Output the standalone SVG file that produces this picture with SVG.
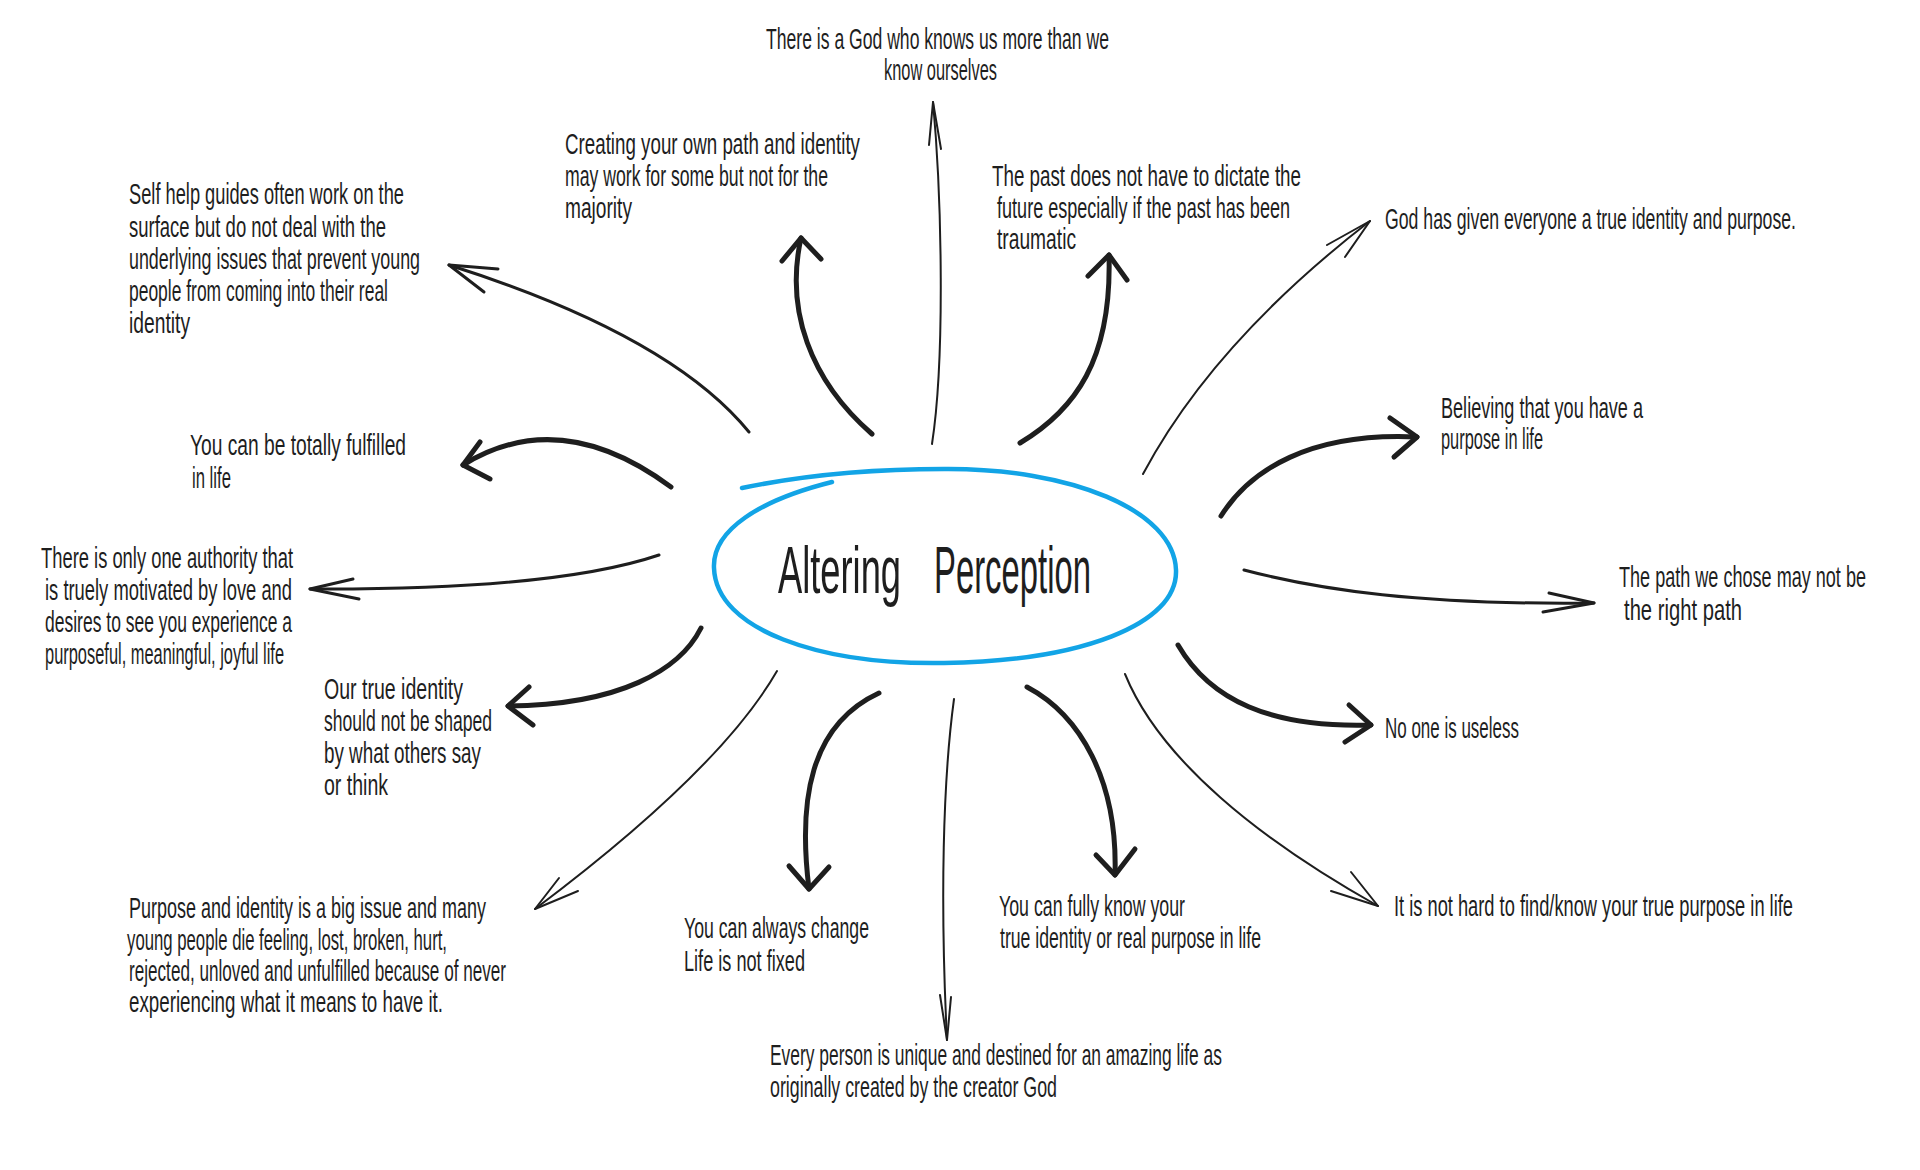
<svg xmlns="http://www.w3.org/2000/svg" width="1920" height="1170" viewBox="0 0 1920 1170">
<style>
  .lbl { font-family: "Liberation Sans", Arial, sans-serif; font-size: 29px; fill: #1e1e1e; }
  .title { font-family: "Liberation Sans", Arial, sans-serif; font-size: 66px; fill: #1e1e1e; }
  .ln { fill: none; stroke: #1e1e1e; stroke-linecap: round; stroke-linejoin: round; }
  .w2 { stroke-width: 2; }
  .w3 { stroke-width: 3; }
  .w5 { stroke-width: 5; }
  .oval { fill: none; stroke: #12a4e6; stroke-width: 4.5; stroke-linecap: round; }
</style>
<rect width="1920" height="1170" fill="#ffffff"/>

<g id="connectors">
  <g id="c-selfhelp" class="ln w3"><path d="M749 432 Q670 335 449 265"/><path d="M498 269 L449 265 L484 292"/></g>
  <g id="c-fulfilled" class="ln w5"><path d="M671 487 Q560 405 463 465"/><path d="M480 442 L463 465 L490 479"/></g>
  <g id="c-authority" class="ln w3"><path d="M659 555 C600 575 500 590 310 589"/><path d="M353 579 L310 589 L359 599"/></g>
  <g id="c-ourtrue" class="ln w5"><path d="M701 628 C680 670 620 705 508 706"/><path d="M529 687 L508 706 L533 725"/></g>
  <g id="c-purpose" class="ln w2"><path d="M777 671 Q720 770 535 909"/><path d="M559 878 L535 909 L578 891"/></g>
  <g id="c-change" class="ln w5"><path d="M879 693 C810 725 798 800 809 889"/><path d="M789 866 L809 889 L829 867"/></g>
  <g id="c-every" class="ln w2"><path d="M954 699 C943 780 940 900 947 1040"/><path d="M940 995 L947 1040 L951 997"/></g>
  <g id="c-fully" class="ln w5"><path d="M1027 687 C1080 715 1118 780 1115 875"/><path d="M1096 855 L1115 875 L1135 849"/></g>
  <g id="c-nothard" class="ln w2"><path d="M1125 674 C1160 760 1260 840 1378 906"/><path d="M1351 872 L1378 906 L1331 891"/></g>
  <g id="c-noone" class="ln w5"><path d="M1178 645 C1210 700 1270 728 1371 725"/><path d="M1349 705 L1371 725 L1345 742"/></g>
  <g id="c-path" class="ln w3"><path d="M1244 570 C1320 590 1420 605 1594 603"/><path d="M1549 593 L1594 603 L1543 612"/></g>
  <g id="c-believing" class="ln w5"><path d="M1221 516 C1250 470 1310 432 1417 437"/><path d="M1390 418 L1417 437 L1394 457"/></g>
  <g id="c-godgiven" class="ln w2"><path d="M1143 474 C1185 395 1255 310 1370 221"/><path d="M1327 245 L1370 221 L1345 257"/></g>
  <g id="c-past" class="ln w5"><path d="M1020 443 C1075 410 1112 360 1109 255"/><path d="M1088 276 L1109 255 L1127 280"/></g>
  <g id="c-godknows" class="ln w2"><path d="M932 444 C945 360 942 200 933 102"/><path d="M929 145 L933 102 L941 149"/></g>
  <g id="c-creating" class="ln w5"><path d="M872 434 C810 380 785 310 801 238"/><path d="M782 261 L801 238 L821 259"/></g>
</g>

<g id="center">
  <path class="oval" d="M832 482 C760 500 712 530 714 568 C716 630 820 665 944 663 C1080 661 1178 625 1176 570 C1174 510 1070 468 944 469 C860 469 790 478 742 488"/>
  <g class="title" transform="translate(778 0) scale(0.56 1)">
    <text x="0" y="593" textLength="219.6" lengthAdjust="spacingAndGlyphs">Altering</text>
    <text x="278.6" y="593" textLength="280.4" lengthAdjust="spacingAndGlyphs">Perception</text>
  </g>
</g>

<g id="n-godknows" class="lbl" transform="translate(766 0) scale(0.62 1)">
  <text x="0" y="49" textLength="553.2" lengthAdjust="spacingAndGlyphs">There is a God who knows us more than we</text>
  <text x="190.3" y="80" textLength="182.3" lengthAdjust="spacingAndGlyphs">know ourselves</text>
</g>
<g id="n-creating" class="lbl" transform="translate(565 0) scale(0.62 1)">
  <text x="0" y="154" textLength="475.8" lengthAdjust="spacingAndGlyphs">Creating your own path and identity</text>
  <text x="0" y="186" textLength="424.2" lengthAdjust="spacingAndGlyphs">may work for some but not for the</text>
  <text x="0" y="218" textLength="108.1" lengthAdjust="spacingAndGlyphs">majority</text>
</g>
<g id="n-selfhelp" class="lbl" transform="translate(129 0) scale(0.62 1)">
  <text x="0" y="204" textLength="443.5" lengthAdjust="spacingAndGlyphs">Self help guides often work on the</text>
  <text x="0" y="237" textLength="414.5" lengthAdjust="spacingAndGlyphs">surface but do not deal with the</text>
  <text x="0" y="269" textLength="469.4" lengthAdjust="spacingAndGlyphs">underlying issues that prevent young</text>
  <text x="0" y="301" textLength="417.7" lengthAdjust="spacingAndGlyphs">people from coming into their real</text>
  <text x="0" y="333" textLength="98.4" lengthAdjust="spacingAndGlyphs">identity</text>
</g>
<g id="n-past" class="lbl" transform="translate(992 0) scale(0.62 1)">
  <text x="0" y="186" textLength="498.4" lengthAdjust="spacingAndGlyphs">The past does not have to dictate the</text>
  <text x="8.1" y="218" textLength="472.6" lengthAdjust="spacingAndGlyphs">future especially if the past has been</text>
  <text x="8.1" y="249" textLength="127.4" lengthAdjust="spacingAndGlyphs">traumatic</text>
</g>
<g id="n-godgiven" class="lbl" transform="translate(1385 0) scale(0.62 1)">
  <text x="0" y="229" textLength="662.9" lengthAdjust="spacingAndGlyphs">God has given everyone a true identity and purpose.</text>
</g>
<g id="n-believing" class="lbl" transform="translate(1441 0) scale(0.62 1)">
  <text x="0" y="418" textLength="325.8" lengthAdjust="spacingAndGlyphs">Believing that you have a</text>
  <text x="0" y="449" textLength="164.5" lengthAdjust="spacingAndGlyphs">purpose in life</text>
</g>
<g id="n-fulfilled" class="lbl" transform="translate(190 0) scale(0.62 1)">
  <text x="0" y="455" textLength="348.4" lengthAdjust="spacingAndGlyphs">You can be totally fulfilled</text>
  <text x="3.2" y="488" textLength="62.9" lengthAdjust="spacingAndGlyphs">in life</text>
</g>
<g id="n-authority" class="lbl" transform="translate(41 0) scale(0.62 1)">
  <text x="0" y="568" textLength="406.5" lengthAdjust="spacingAndGlyphs">There is only one authority that</text>
  <text x="6.5" y="600" textLength="398.4" lengthAdjust="spacingAndGlyphs">is truely motivated by love and</text>
  <text x="6.5" y="632" textLength="398.4" lengthAdjust="spacingAndGlyphs">desires to see you experience a</text>
  <text x="6.5" y="664" textLength="385.5" lengthAdjust="spacingAndGlyphs">purposeful, meaningful, joyful life</text>
</g>
<g id="n-path" class="lbl" transform="translate(1619 0) scale(0.62 1)">
  <text x="0" y="587" textLength="398.4" lengthAdjust="spacingAndGlyphs">The path we chose may not be</text>
  <text x="8.1" y="620" textLength="190.3" lengthAdjust="spacingAndGlyphs">the right path</text>
</g>
<g id="n-ourtrue" class="lbl" transform="translate(324 0) scale(0.62 1)">
  <text x="0" y="699" textLength="224.2" lengthAdjust="spacingAndGlyphs">Our true identity</text>
  <text x="0" y="731" textLength="271" lengthAdjust="spacingAndGlyphs">should not be shaped</text>
  <text x="0" y="763" textLength="253.2" lengthAdjust="spacingAndGlyphs">by what others say</text>
  <text x="0" y="795" textLength="103.2" lengthAdjust="spacingAndGlyphs">or think</text>
</g>
<g id="n-noone" class="lbl" transform="translate(1385 0) scale(0.62 1)">
  <text x="0" y="738" textLength="216.1" lengthAdjust="spacingAndGlyphs">No one is useless</text>
</g>
<g id="n-purpose" class="lbl" transform="translate(129 0) scale(0.62 1)">
  <text x="0" y="918" textLength="575.8" lengthAdjust="spacingAndGlyphs">Purpose and identity is a big issue and many</text>
  <text x="-3.2" y="950" textLength="516.1" lengthAdjust="spacingAndGlyphs">young people die feeling, lost, broken, hurt,</text>
  <text x="0" y="981" textLength="608.1" lengthAdjust="spacingAndGlyphs">rejected, unloved and unfulfilled because of never</text>
  <text x="0" y="1012" textLength="506.5" lengthAdjust="spacingAndGlyphs">experiencing what it means to have it.</text>
</g>
<g id="n-change" class="lbl" transform="translate(684 0) scale(0.62 1)">
  <text x="0" y="938" textLength="298.4" lengthAdjust="spacingAndGlyphs">You can always change</text>
  <text x="0" y="971" textLength="195.2" lengthAdjust="spacingAndGlyphs">Life is not fixed</text>
</g>
<g id="n-fully" class="lbl" transform="translate(999 0) scale(0.62 1)">
  <text x="0" y="916" textLength="300" lengthAdjust="spacingAndGlyphs">You can fully know your</text>
  <text x="1.6" y="948" textLength="421" lengthAdjust="spacingAndGlyphs">true identity or real purpose in life</text>
</g>
<g id="n-nothard" class="lbl" transform="translate(1394 0) scale(0.62 1)">
  <text x="0" y="916" textLength="643.5" lengthAdjust="spacingAndGlyphs">It is not hard to find/know your true purpose in life</text>
</g>
<g id="n-every" class="lbl" transform="translate(770 0) scale(0.62 1)">
  <text x="0" y="1065" textLength="729" lengthAdjust="spacingAndGlyphs">Every person is unique and destined for an amazing life as</text>
  <text x="0" y="1097" textLength="462.9" lengthAdjust="spacingAndGlyphs">originally created by the creator God</text>
</g>
</svg>
